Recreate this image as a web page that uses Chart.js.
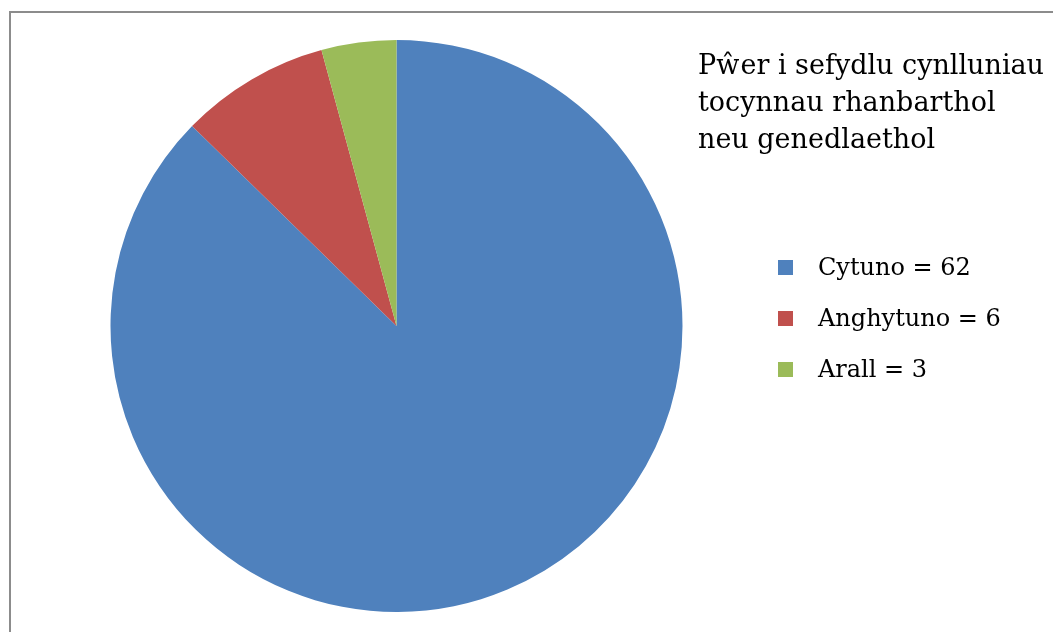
<!DOCTYPE html>
<html>
<head>
<meta charset="utf-8">
<script src="https://cdn.jsdelivr.net/npm/chart.js@4/dist/chart.umd.min.js"></script>
<style>
  html, body { margin: 0; padding: 0; background: #fff; }
  #wrap { position: relative; width: 1053px; height: 632px; overflow: hidden; }
  #frame { position: absolute; left: 9px; top: 11px; width: 1200px; height: 800px;
           border-left: 2px solid #8c8c8c; border-top: 2px solid #8c8c8c; }
  #chart { position: absolute; left: 0; top: 0; }
  #title { position: absolute; left: 698px; top: 46px; font-family: "DejaVu Serif", serif;
           font-size: 27px; line-height: 37px; color: #000; white-space: nowrap; }
  #legend { position: absolute; left: 778px; top: 248px; font-family: "DejaVu Serif", serif;
            font-size: 24px; color: #000; }
  .row { position: relative; height: 51px; white-space: nowrap; }
  .box { position: absolute; left: 0; top: 12px; width: 15px; height: 15px; }
  .lbl { position: absolute; left: 40px; top: 0; line-height: 38px; }
</style>
</head>
<body>
<div id="wrap">
  <div id="frame"></div>
  <canvas id="chart" width="1053" height="632"></canvas>
  <div id="title">Pŵer i sefydlu cynlluniau<br>tocynnau rhanbarthol<br>neu genedlaethol</div>
  <div id="legend"></div>
</div>
<script>
// ---------------- DATA ----------------
const labels = ["Cytuno", "Anghytuno", "Arall"];
const values = [62, 6, 3];
const colors = ["#4F81BD", "#C0504D", "#9BBB59"];

// ---------------- LEGEND ----------------
const legend = document.getElementById("legend");
labels.forEach((l, i) => {
    const row = document.createElement("div");
    row.className = "row";
    row.innerHTML = `<div class="box" style="background:${colors[i]}"></div>` +
        `<div class="lbl">${l} = ${values[i]}</div>`;
    legend.appendChild(row);
});

// ---------------- CHART ----------------
const ctx = document.getElementById("chart").getContext("2d");
new Chart(ctx, {
    type: "pie",
    data: {
        labels: labels,
        datasets: [{
            data: values,
            backgroundColor: colors,
            borderWidth: 0
        }]
    },
    options: {
        responsive: false,
        animation: false,
        layout: { padding: { left: 110, top: 40, right: 370, bottom: 20 } },
        plugins: {
            legend: { display: false },
            tooltip: { enabled: false }
        }
    }
});
</script>
</body>
</html>
